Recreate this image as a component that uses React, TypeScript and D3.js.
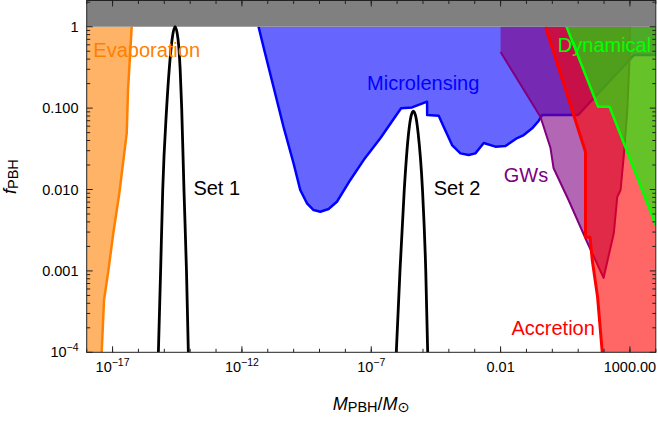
import React from 'react';
import * as d3 from 'd3';

// PBH mass functions (M in solar masses, f_PBH)
const set1Mass = [5.9e-16, 7.2e-16, 8.7e-16, 1.23e-15, 1.55e-15, 2.0e-15, 2.6e-15, 3.4e-15, 4.1e-15, 4.7e-15, 5.75e-15, 7.2e-15, 8.5e-15];
const set1F = [1e-4, 1e-3, 0.01, 0.1, 0.3, 0.7, 1, 0.7, 0.3, 0.1, 0.01, 1e-3, 1e-4];
const set2Mass = [9.3e-7, 1.29e-6, 1.89e-6, 2.79e-6, 3.46e-6, 4.25e-6, 5.21e-6, 6.46e-6, 9.55e-6, 1.28e-5, 1.52e-5];
const set2F = [1e-4, 1e-3, 0.01, 0.05, 0.08, 0.092, 0.08, 0.05, 0.01, 1e-3, 1e-4];

// constraint boundaries
const evapMass = [5.5e-17, 3.96e-17, 3.53e-17, 1.83e-17, 1.07e-17, 6.86e-18, 4.68e-18, 3.8e-18];
const evapF = [1, 0.167, 0.0494, 0.00906, 0.00292, 0.001, 4.4e-4, 1e-4];

const mlMass = [4.4e-12, 6.8e-12, 1.66e-11, 4.05e-11, 9.9e-11, 1.8e-10, 3.27e-10, 5.9e-10, 1.07e-9, 2.24e-9, 4.7e-9, 1.55e-8,
  5.06e-8, 2.24e-7, 1.42e-6, 3.78e-6, 1.44e-5, 1.45e-5, 4.05e-5, 6.3e-5, 1.33e-4, 2.8e-4, 5.86e-4, 1.06e-3, 2.23e-3,
  6.3e-3, 0.0154, 0.0438, 0.0787, 0.166, 0.3, 0.405, 9.9, 1420, 1e4];
const mlF = [1, 0.568, 0.183, 0.059, 0.021, 0.00986, 0.00677, 0.0056, 0.00534, 0.00576, 0.00708, 0.0131,
  0.023, 0.0426, 0.0995, 0.102, 0.12, 0.0823, 0.0807, 0.059, 0.0352, 0.0278, 0.0265, 0.0278, 0.0373,
  0.0336, 0.0342, 0.0429, 0.0467, 0.0565, 0.07, 0.0823, 0.0823, 0.449, 0.449];

const gwMass = [0.01, 0.01, 0.349, 0.85, 1.11, 4.23, 23, 95.7, 239, 324, 435, 583, 791, 970, 1000];
const gwF = [1, 0.489, 0.0778, 0.0323, 0.0184, 0.00743, 0.0022, 8.2e-4, 0.00292, 0.0081, 0.00986, 0.0265, 0.0948, 0.428, 1];

const accMass = [0.545, 19.2, 19.2, 28.7, 34.9, 56.1, 85.1];
const accF = [1, 0.0289, 0.0026, 0.0026, 0.00136, 4.78e-4, 1e-4];

const dynMass = [3.54, 58.6, 163, 1e4];
const dynF = [1, 0.104, 0.104, 0.00366];

// ticks
const xMajor = [1e-17, 1e-12, 1e-7, 1e-2, 1e3];
const xMajorLabels = [['10', '−17'], ['10', '−12'], ['10', '−7'], ['0.01', ''], ['1000.00', '']];
const yMajor = [1e-4, 1e-3, 1e-2, 0.1, 1];
const yMajorLabels = [['10', '−4'], ['0.001', ''], ['0.010', ''], ['0.100', ''], ['1', '']];

const W = 658;
const H = 424;
const left = 86.7, right = 655.8, top = 0.5, bottom = 352.3;

const x = d3.scaleLog().domain([1e-18, 1e4]).range([left, right]);
const y = d3.scaleLog().domain([1e-4, 2.1]).range([bottom, top]);

const zip = (m: number[], f: number[]) => m.map((v, i) => [v, f[i]] as [number, number]);
const line = d3.line<[number, number]>().x(d => x(d[0])).y(d => y(d[1]));
const smooth = d3.line<[number, number]>().x(d => x(d[0])).y(d => y(d[1])).curve(d3.curveMonotoneX);

const xMin = 1e-18, xMax = 1e4;

const FONT = "'Liberation Sans', Arial, Helvetica, sans-serif";

export default function App() {
  const evap = zip(evapMass, evapF);
  const ml = zip(mlMass, mlF);
  const gw = zip(gwMass, gwF);
  const acc = zip(accMass, accF);
  const dyn = zip(dynMass, dynF);

  const regions = [
    { fill: [...evap, [xMin, 1e-4], [xMin, 1]], edge: evap, color: 'rgb(255,128,0)', w: 2.5 },
    { fill: [...ml, [xMax, 1]], edge: ml, color: 'rgb(0,0,255)', w: 2.5 },
    { fill: gw, edge: gw.slice(1), color: 'rgb(128,0,128)', w: 2 },
    { fill: [...acc, [xMax, 1e-4], [xMax, 1]], edge: acc, color: 'rgb(255,0,0)', w: 3 },
    { fill: [...dyn, [xMax, 1]], edge: dyn, color: 'rgb(0,255,0)', w: 2.5 },
  ];

  const annotations = [
    { text: 'Evaporation', m: 1.8e-18, f: 0.42, color: 'rgb(255,128,0)' },
    { text: 'Microlensing', m: 6.9e-8, f: 0.167, color: 'rgb(0,0,255)' },
    { text: 'Set 1', m: 1.33e-14, f: 0.00855, color: '#000' },
    { text: 'Set 2', m: 2.6e-5, f: 0.00855, color: '#000' },
    { text: 'GWs', m: 0.0132, f: 0.0125, color: 'rgb(128,0,128)' },
    { text: 'Dynamical', m: 1.63, f: 0.493, color: 'rgb(0,255,0)' },
    { text: 'Accretion', m: 0.0263, f: 1.63e-4, color: 'rgb(255,0,0)' },
  ];

  const xMinor = d3.range(-18, 5).map(e => Math.pow(10, e));
  const yMinor: number[] = [];
  d3.range(-4, 1).forEach(e => d3.range(2, 10).forEach(k => {
    const v = k * Math.pow(10, e);
    if (v <= 2.1) yMinor.push(v);
  }));

  return (
    <svg width={W} height={H} style={{ position: 'absolute', left: 0, top: 0, background: '#fff' }} fontFamily={FONT}>
      <defs>
        <clipPath id="plotArea">
          <rect x={left} y={top} width={right - left} height={bottom - top} />
        </clipPath>
      </defs>

      <g clipPath="url(#plotArea)">
        {regions.map((r, i) => (
          <g key={i}>
            <path d={line(r.fill as [number, number][]) + 'Z'} fill={r.color} fillOpacity={0.6} stroke="none" />
            <path d={line(r.edge) || ''} fill="none" stroke={r.color} strokeWidth={r.w} strokeLinejoin="round" />
          </g>
        ))}
        <rect x={left} y={top} width={right - left} height={y(1) - top} fill="#808080" />
        <path d={smooth(zip(set1Mass, set1F)) || ''} fill="none" stroke="#000" strokeWidth={2.8} />
        <path d={smooth(zip(set2Mass, set2F)) || ''} fill="none" stroke="#000" strokeWidth={2.8} />
        {annotations.map(a => (
          <text key={a.text} x={x(a.m)} y={y(a.f)} fill={a.color} fontSize={20}>{a.text}</text>
        ))}
      </g>

      {/* frame */}
      <rect x={left} y={top} width={right - left} height={bottom - top} fill="none" stroke="#222" strokeWidth={1} />

      {/* x ticks bottom & top */}
      <g stroke="#222" strokeWidth={1}>
        {xMinor.map(v => (
          <g key={'xm' + v}>
            <line x1={x(v)} x2={x(v)} y1={bottom} y2={bottom - 3.5} />
            <line x1={x(v)} x2={x(v)} y1={top} y2={top + 3.5} />
          </g>
        ))}
        {xMajor.map(v => (
          <g key={'xM' + v}>
            <line x1={x(v)} x2={x(v)} y1={bottom} y2={bottom - 6} />
            <line x1={x(v)} x2={x(v)} y1={top} y2={top + 6} />
          </g>
        ))}
        {yMinor.map(v => (
          <g key={'ym' + v}>
            <line x1={left} x2={left + 3.5} y1={y(v)} y2={y(v)} />
            <line x1={right} x2={right - 3.5} y1={y(v)} y2={y(v)} />
          </g>
        ))}
        {yMajor.map(v => (
          <g key={'yM' + v}>
            <line x1={left} x2={left + 6} y1={y(v)} y2={y(v)} />
            <line x1={right} x2={right - 6} y1={y(v)} y2={y(v)} />
          </g>
        ))}
      </g>

      {/* tick labels */}
      {xMajor.map((v, i) => (
        <text key={'xl' + v} x={x(v)} y={372.3} textAnchor="middle" fontSize={14.5} fill="#000">
          {xMajorLabels[i][0]}
          {xMajorLabels[i][1] && <tspan dy={-6.5} fontSize={10.5}>{xMajorLabels[i][1]}</tspan>}
        </text>
      ))}
      {yMajor.map((v, i) => (
        <text key={'yl' + v} x={78.5} y={y(v) + 5} textAnchor="end" fontSize={14.5} fill="#000">
          {yMajorLabels[i][0]}
          {yMajorLabels[i][1] && <tspan dy={-6.5} fontSize={10.5}>{yMajorLabels[i][1]}</tspan>}
        </text>
      ))}

      {/* axis titles */}
      <text x={(left + right) / 2} y={410} textAnchor="middle" fontSize={18} fill="#000">
        <tspan fontStyle="italic">M</tspan>
        <tspan fontSize={14.5} dy={2}>PBH</tspan>
        <tspan dy={-2}>/</tspan>
        <tspan fontStyle="italic">M</tspan>
        <tspan fontSize={14.5} dy={2} fontFamily="'DejaVu Sans', sans-serif">⊙</tspan>
      </text>
      <text transform={`translate(16,${194}) rotate(-90)`} fontSize={18} fill="#000">
        <tspan fontStyle="italic">f</tspan>
        <tspan fontSize={14.5} dy={2}>PBH</tspan>
      </text>
    </svg>
  );
}
